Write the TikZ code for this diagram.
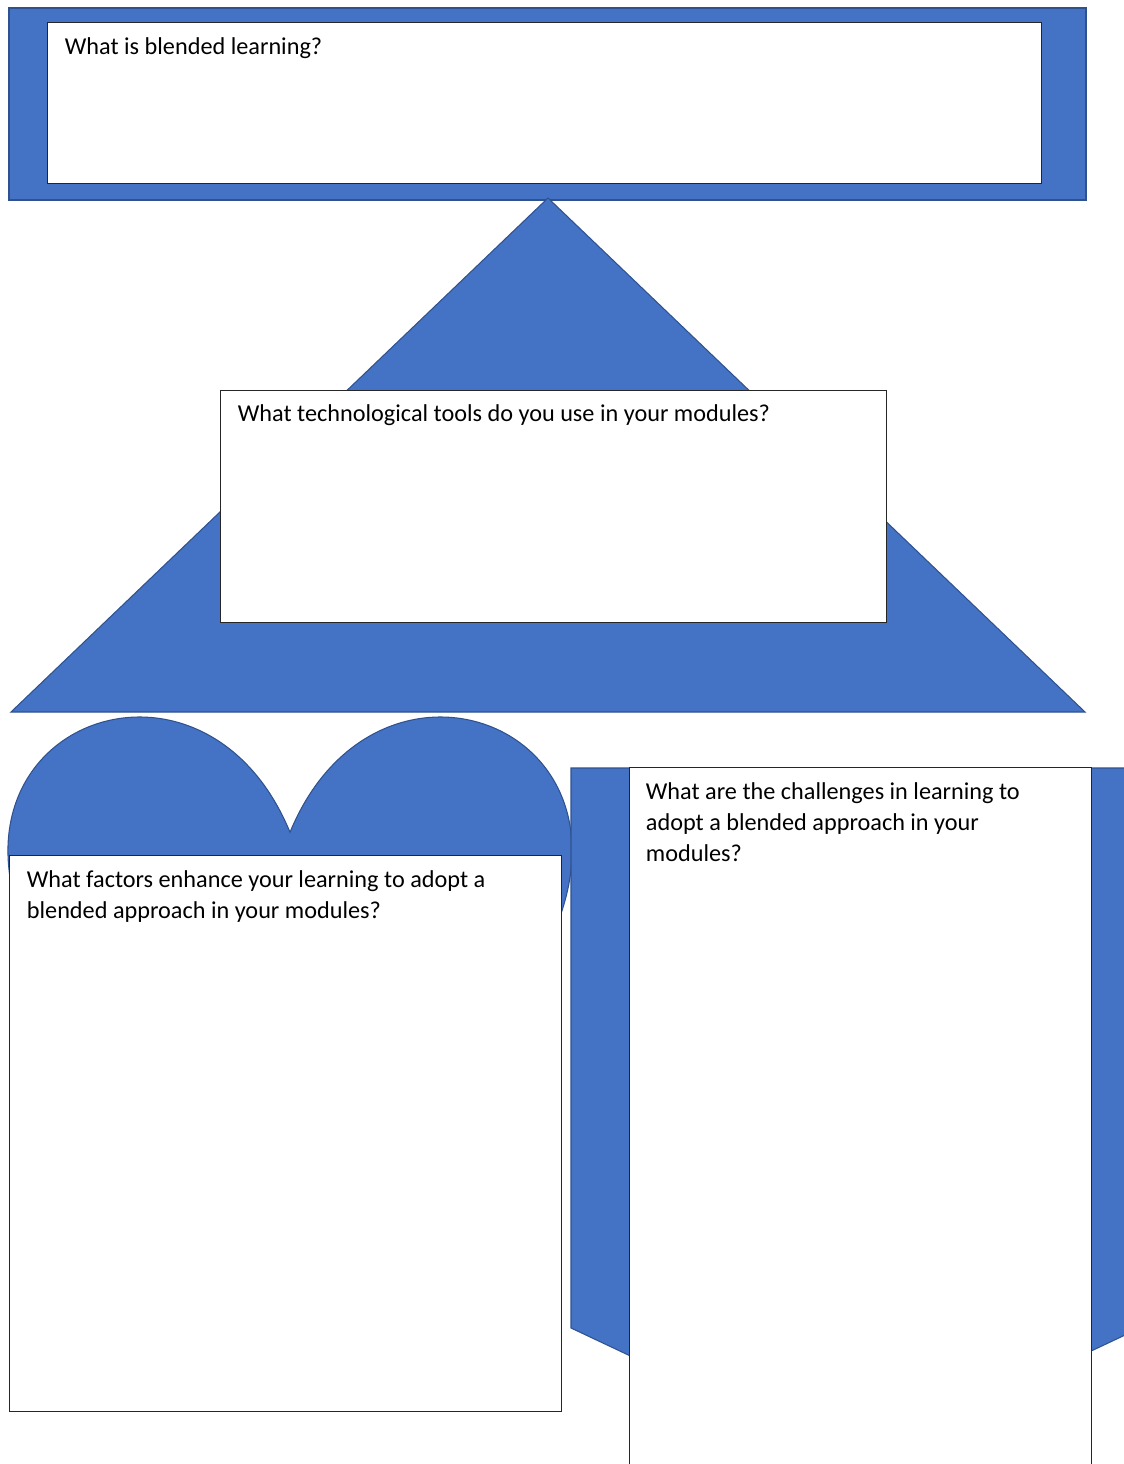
\documentclass[tikz,border=0pt]{standalone}
\usepackage{fontspec}
\setmainfont{Carlito}
\usepackage{xcolor}
\usetikzlibrary{positioning,fit,calc}
\definecolor{fillblue}{HTML}{4472C4}
\definecolor{lineblue}{HTML}{2F528F}

\begin{document}
\begin{tikzpicture}[x=0.02cm,y=-0.02cm,
    blueshape/.style={fill=fillblue,draw=lineblue,line width=0.6pt},
    qbox/.style={rectangle,draw=black!85,fill=white,line width=0.5pt,inner sep=0pt},
    qtext/.style={anchor=base west,inner sep=0pt,align=left,
                  font=\fontsize{13.8}{17.6}\selectfont}
]
\useasboundingbox (0,0) rectangle (1124,1464);
\clip (0,0) rectangle (1124,1464);
\fill[white] (0,0) rectangle (1124,1464);

\node[blueshape,rectangle,inner sep=0pt,fit={(9,8) (1086,200)}] (banner) {};
\node[qbox,fit={(47,22) (1041,183)}] (q1) {};
\node[qtext] (t1) at ($(q1.north west)+(18,33)$) {What is blended learning?};

\path[blueshape] (548,198) -- (1085,712) -- (11,712) -- cycle;
\node[qbox,fit={(220,390) (886,622)}] (q2) {};
\node[qtext] (t2) at ($(q2.north west)+(18,32)$) {What technological tools do you use in your modules?};

\path[blueshape] (290,832.25) .. controls (406.7,549.3) and (861.7,832.25) .. (290,1196)
    .. controls (-281.7,832.25) and (173.3,549.3) .. (290,832.25) -- cycle;
\node[qbox,fit={(9,855) (561,1411)}] (q3) {};
\node[qtext] (t3) at ($(q3.north west)+(18,64)$) {What factors enhance your learning to adopt a\\blended approach in your modules?};

\path[blueshape] (571,768) -- (1140,768) -- (1140,1328) -- (855.5,1462) -- (571,1328) -- cycle;
\node[qbox,fit={(629,767) (1091,1480)}] (q4) {};
\node[qtext] (t4) at ($(q4.north west)+(17,95)$) {What are the challenges in learning to\\adopt a blended approach in your\\modules?};
\end{tikzpicture}
\end{document}
